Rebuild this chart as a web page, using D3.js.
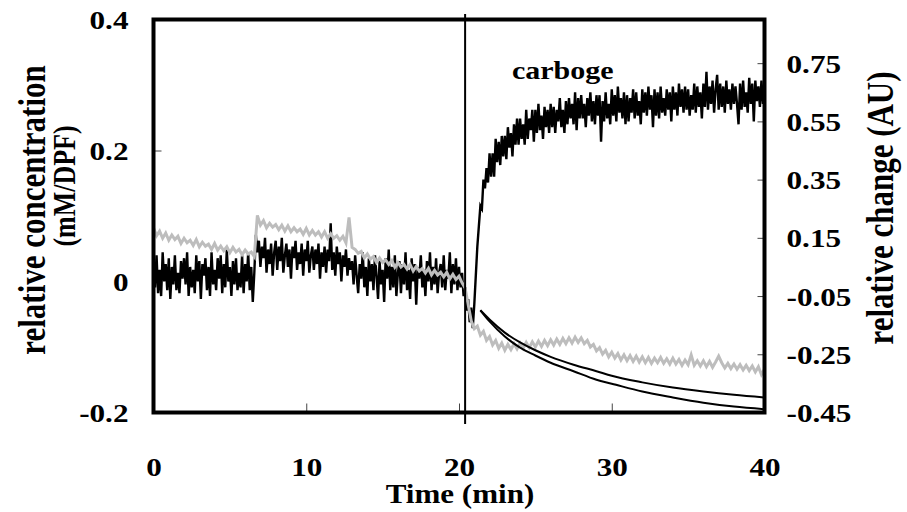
<!DOCTYPE html>
<html lang="en">
<head>
<meta charset="UTF-8">
<script src="https://d3js.org/d3.v7.min.js"></script>
<title>carboge</title>
<style>
  body { margin: 0; background: #fff; }
</style>
</head>
<body>
<div id="chart"></div>
<script>
// black trace, relative change (AU), right axis, t = 0 .. 40 every 0.1 min
const blackStep = 0.1;
const blackAU = [
  // 0 - 6.6 min
  0.07,-0.02,0.09,-0.04,0.04,-0.05,0.10,0.00,0.06,-0.03,0.08,-0.06,0.05,-0.01,0.09,-0.03,0.03,-0.04,0.07,0.01,
  0.08,-0.01,0.10,-0.05,0.05,-0.02,0.04,-0.04,0.09,0.00,0.07,-0.06,0.06,0.02,0.08,-0.03,0.05,-0.05,0.10,-0.01,
  0.04,-0.03,0.08,0.01,0.09,-0.04,0.06,-0.02,0.11,0.00,0.05,-0.05,0.07,-0.01,0.08,-0.03,0.03,-0.02,0.09,-0.04,
  0.06,0.00,0.10,-0.03,0.05,-0.07,0.03,
  // 6.7 - 12.9 min
  0.16,0.10,0.14,0.05,0.12,0.08,0.15,0.03,0.11,0.06,0.13,0.02,0.10,
  0.14,0.04,0.12,0.07,0.15,0.03,0.09,0.13,0.05,0.11,
  0.01,0.12,0.08,0.14,0.04,0.10,0.06,0.13,0.02,0.11,
  0.07,0.14,0.03,0.09,0.12,0.04,0.11,0.06,0.13,0.01,
  0.10,0.05,0.12,0.03,0.11,0.07,0.20,0.04,0.10,0.02,
  0.12,0.06,0.10,0.00,0.09,0.05,0.11,0.02,0.08,0.04,
  // 13.0 - 20.3 min
  0.07,-0.01,0.09,0.02,-0.04,0.06,0.01,0.10,-0.02,0.05,
  -0.05,0.08,0.00,0.06,-0.03,0.09,0.02,-0.06,0.07,-0.01,
  0.04,-0.07,0.08,0.01,0.11,-0.03,0.05,-0.02,0.09,-0.05,
  0.03,0.07,-0.04,0.06,-0.01,0.10,-0.03,0.04,-0.06,0.08,
  0.00,0.06,-0.08,0.05,0.01,0.09,-0.02,0.04,-0.05,0.07,
  0.00,0.10,-0.03,0.05,-0.01,0.08,-0.04,0.03,0.06,-0.02,
  0.09,-0.03,0.04,0.01,0.10,-0.04,0.06,-0.01,0.08,-0.03,
  0.05,-0.02,0.03,-0.05,
  // 20.4 - 21.3 min
  -0.02,-0.10,-0.06,-0.14,-0.09,-0.16,-0.08,0.02,0.12,0.19,
  // 21.4 - 40.0 min
  0.26,0.25,0.35,0.32,0.39,0.34,
  0.44,0.36,0.44,0.36,0.49,0.41,0.48,0.40,0.50,0.43,
  0.50,0.42,0.53,0.46,0.51,0.43,0.54,0.47,0.56,0.47,
  0.56,0.49,0.54,0.47,0.59,0.49,0.56,0.52,0.59,0.48,
  0.59,0.51,0.61,0.52,0.57,0.49,0.60,0.53,0.59,0.51,
  0.61,0.53,0.60,0.51,0.59,0.55,0.63,0.53,0.59,0.51,
  0.62,0.54,0.63,0.56,0.61,0.54,0.65,0.52,0.63,0.56,
  0.64,0.56,0.61,0.53,0.63,0.57,0.65,0.55,0.62,0.54,
  0.64,0.57,0.64,0.48,0.62,0.55,0.65,0.56,0.61,0.54,
  0.66,0.57,0.64,0.55,0.67,0.58,0.63,0.56,0.65,0.54,
  0.64,0.55,0.63,0.58,0.66,0.56,0.65,0.57,0.62,0.54,
  0.66,0.58,0.65,0.57,0.67,0.59,0.64,0.53,0.66,0.57,
  0.65,0.56,0.67,0.58,0.63,0.57,0.66,0.59,0.65,0.55,
  0.67,0.59,0.65,0.57,0.68,0.60,0.66,0.58,0.67,0.59,
  0.66,0.57,0.64,0.59,0.68,0.58,0.67,0.60,0.65,0.56,
  0.68,0.60,0.72,0.59,0.67,0.61,0.69,0.58,0.66,0.71,
  0.59,0.68,0.60,0.67,0.58,0.69,0.61,0.66,0.59,0.68,
  0.61,0.67,0.61,0.54,0.68,0.59,0.69,0.60,0.65,0.58,
  0.70,0.61,0.68,0.55,0.69,0.62,0.67,0.60,0.69,0.61,
  0.66
];

// grey trace, relative concentration (mM/DPF), left axis, every 0.2 min
const greyStep = 0.2;
const greyConc = [
  0.082,0.070,0.077,0.066,0.074,0.063,0.071,0.064,0.069,0.058,
  0.066,0.059,0.063,0.055,0.064,0.053,0.060,0.054,0.057,0.049,
  0.058,0.048,0.054,0.047,0.053,0.044,0.052,0.045,0.049,0.041,
  0.048,0.042,0.045,0.038,0.101,0.086,0.093,0.082,0.089,0.083,
  0.087,0.079,0.086,0.077,0.085,0.076,0.082,0.076,0.080,0.072,
  0.081,0.071,0.078,0.071,0.076,0.068,0.076,0.066,0.073,0.066,
  0.070,0.063,0.069,0.059,0.098,0.052,0.049,0.043,0.046,0.036,
  0.042,0.034,0.038,0.029,0.036,0.029,0.033,0.026,0.032,0.022,
  0.029,0.022,0.026,0.019,0.026,0.016,0.023,0.016,0.020,0.013,
  0.020,0.010,0.017,0.010,0.014,0.007,0.014,0.004,0.011,0.003,
  0.008,-0.002,-0.010,-0.035,-0.060,-0.072,-0.068,-0.082,-0.076,-0.090,
  -0.084,-0.097,-0.090,-0.102,-0.094,-0.105,-0.096,-0.104,-0.095,-0.103,
  -0.094,-0.102,-0.093,-0.101,-0.092,-0.100,-0.091,-0.099,-0.090,-0.098,
  -0.089,-0.097,-0.088,-0.096,-0.087,-0.095,-0.086,-0.094,-0.085,-0.093,
  -0.086,-0.095,-0.090,-0.100,-0.096,-0.106,-0.101,-0.111,-0.105,-0.115,
  -0.108,-0.117,-0.110,-0.120,-0.112,-0.121,-0.113,-0.122,-0.114,-0.123,
  -0.115,-0.124,-0.116,-0.125,-0.117,-0.124,-0.116,-0.125,-0.118,-0.126,
  -0.117,-0.126,-0.119,-0.128,-0.120,-0.127,-0.112,-0.128,-0.121,-0.129,
  -0.121,-0.130,-0.122,-0.131,-0.123,-0.114,-0.124,-0.132,-0.125,-0.133,
  -0.126,-0.134,-0.127,-0.135,-0.128,-0.136,-0.129,-0.138,-0.130,-0.142,
  -0.134
];

// the two smooth decays after the switch (mM/DPF)
const decayTimes = [21.4, 22, 23, 24, 25, 26, 27.5, 29, 30, 32, 34, 36, 38, 40];
const decayUpper = [-0.044,-0.058,-0.078,-0.093,-0.105,-0.115,-0.127,-0.137,-0.144,-0.154,-0.162,-0.168,-0.173,-0.177];
const decayLower = [-0.044,-0.061,-0.084,-0.101,-0.113,-0.124,-0.137,-0.150,-0.156,-0.168,-0.177,-0.185,-0.191,-0.195];

const switchTime = 20.4;

const xTicks = [0, 10, 20, 30, 40];
const leftTicks = [-0.2, 0, 0.2, 0.4];
const rightTicks = [-0.45, -0.25, -0.05, 0.15, 0.35, 0.55, 0.75];

const width = 907, height = 512;
const m = {left: 153.5, right: 764.5, top: 19.5, bottom: 412.5};
const sx = 1.2; // lettering in the figure is stretched sideways
const font = "Liberation Serif";

const svg = d3.select("#chart").append("svg")
    .attr("width", width).attr("height", height);

const x = d3.scaleLinear().domain([0, 40]).range([m.left, m.right]);
const yL = d3.scaleLinear().domain([-0.2, 0.4]).range([m.bottom, m.top]);
const yR = d3.scaleLinear().domain([-0.45, 0.9]).range([m.bottom, m.top]);

// axes, ticks pointing inwards
const fmtL = d => d === 0 ? "0" : d.toFixed(1);
const fmtR = d => d.toFixed(2);

const gL = svg.append("g").attr("transform", `translate(${m.left},0)`)
    .call(d3.axisLeft(yL).tickValues(leftTicks).tickFormat(fmtL).tickSize(-8).tickPadding(25));
const gR = svg.append("g").attr("transform", `translate(${m.right},0)`)
    .call(d3.axisRight(yR).tickValues(rightTicks).tickFormat(fmtR).tickSize(-7).tickPadding(22));
const gB = svg.append("g").attr("transform", `translate(0,${m.bottom})`)
    .call(d3.axisBottom(x).tickValues(xTicks).tickSize(-9).tickPadding(10));

[gL, gR, gB].forEach(g => {
  g.attr("font-family", font).attr("font-weight", "bold").attr("font-size", 26);
  g.select(".domain").remove();
  g.selectAll(".tick line").attr("stroke", "#444").attr("stroke-width", 1);
  g.selectAll("text").attr("fill", "#000");
});
gL.selectAll("text").attr("x", null).attr("dy", "0.35em").attr("transform", `translate(-25,0) scale(${sx},1)`);
gR.selectAll("text").attr("x", null).attr("dy", "0.35em").attr("transform", `translate(22,0) scale(${sx},1)`);
gB.selectAll("text").attr("y", null).attr("dy", null).attr("transform", `translate(0,63) scale(${sx},1)`);

// traces
const lineR = d3.line().x((d, i) => x(i * blackStep)).y(d => yR(d));
const lineL = d3.line().x((d, i) => x(i * greyStep)).y(d => yL(d));

svg.append("path").datum(blackAU)
    .attr("d", lineR).attr("fill", "none").attr("stroke", "#000")
    .attr("stroke-width", 2.4).attr("stroke-linejoin", "miter");
svg.append("path").datum(greyConc)
    .attr("d", lineL).attr("fill", "none").attr("stroke", "#bdbdbd").attr("stroke-width", 3);

const decayLine = d3.line().x((d, i) => x(decayTimes[i])).y(d => yL(d)).curve(d3.curveMonotoneX);
[decayUpper, decayLower].forEach(s => {
  svg.append("path").datum(s)
      .attr("d", decayLine).attr("fill", "none").attr("stroke", "#000").attr("stroke-width", 2);
});

// switch marker
svg.append("line")
    .attr("x1", x(switchTime)).attr("x2", x(switchTime))
    .attr("y1", 14).attr("y2", 424)
    .attr("stroke", "#000").attr("stroke-width", 2);

// frame
svg.append("rect")
    .attr("x", m.left).attr("y", m.top)
    .attr("width", m.right - m.left).attr("height", m.bottom - m.top)
    .attr("fill", "none").attr("stroke", "#000").attr("stroke-width", 4);

// labels
const label = (tf, size, txt, anchor) => svg.append("text")
    .attr("transform", tf).attr("font-family", font).attr("font-weight", "bold")
    .attr("font-size", size).attr("text-anchor", anchor || "start").text(txt);

label(`translate(512,79) scale(${sx},1)`, 25, "carboge");
label(`translate(460,503) scale(1.15,1)`, 27, "Time (min)", "middle");
label(`translate(45,210) scale(${sx},1) rotate(-90)`, 31, "relative concentration", "middle");
label(`translate(75,186) scale(${sx},1) rotate(-90)`, 26, "(mM/DPF)", "middle");
label(`translate(893,208) scale(${sx},1) rotate(-90)`, 31, "relative change (AU)", "middle");
</script>
</body>
</html>
